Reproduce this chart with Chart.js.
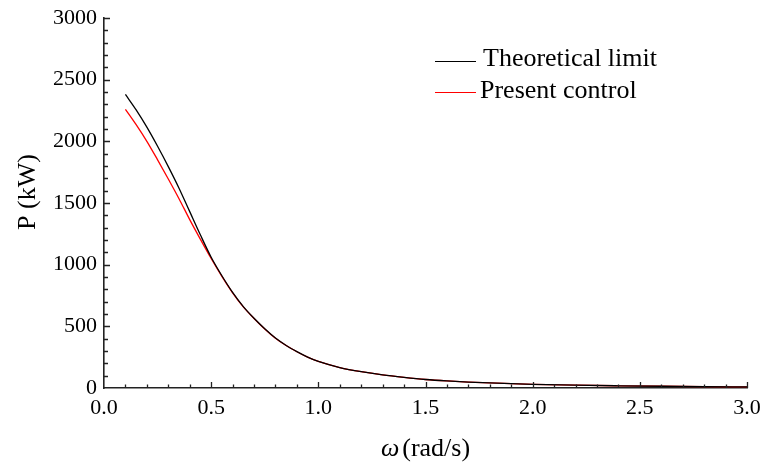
<!DOCTYPE html>
<html lang="en">
<head>
    <meta charset="UTF-8">
    <title>P vs omega</title>
    <script src="https://cdn.jsdelivr.net/npm/chart.js@4.4.0/dist/chart.umd.min.js"></script>
    <style>
        html,body{margin:0; padding:0; background:#fff;}
        div{width:762px; height:463px;}
    </style>
</head>
<body>
    <div>
        <canvas id="myChart" width="762" height="463"></canvas>
    </div>
    <script>
        // omega (rad/s)
        const omega = [0.10,0.15,0.20,0.25,0.30,0.35,0.40,0.45,0.50,0.55,0.60,0.65,0.70,0.75,0.80,0.85,0.90,0.95,1.00,
                       1.1,1.2,1.3,1.4,1.5,1.6,1.7,1.8,1.9,2.0,2.2,2.4,2.6,2.8,3.0]
        // P (kW)
        const theoretical = [2380,2255,2115,1960,1795,1620,1430,1240,1060,910,775,660,565,480,405,345,295,250,215,
                             166,132,106,86,69,57,48,41,35,30,23,18,14,11,9]
        const present = [2260,2135,2000,1850,1695,1535,1365,1205,1050,905,772,658,564,479,404,344,294,250,215,
                         166,132,106,86,69,57,48,41,35,30,23,18,14,11,9]
        const xTicks = [0,0.5,1.0,1.5,2.0,2.5,3.0]
        const yTicks = [0,500,1000,1500,2000,2500,3000]

        const serif = "'Liberation Serif','Times New Roman',serif"

        function pts(ys){
            return omega.map(function(x,i){ return {x:x, y:ys[i]} })
        }

        // inward ticks, titles and legend
        const decor = {
            id:'decor',
            afterDraw:function(chart){
                const c = chart.ctx
                const xs = chart.scales.x
                const ys = chart.scales.y
                const a = chart.chartArea
                c.save()
                c.strokeStyle = '#222'
                c.lineWidth = 1.3
                c.beginPath()
                for(let i=1;i<=30;i++){
                    const px = Math.round(xs.getPixelForValue(i/10))+0.5
                    const len = (i%5==0) ? 6 : 3.5
                    c.moveTo(px,a.bottom)
                    c.lineTo(px,a.bottom-len)
                }
                for(let i=1;i<=30;i++){
                    const py = Math.round(ys.getPixelForValue(i*100))+0.5
                    const len = (i%5==0) ? 6 : 4
                    c.moveTo(a.left,py)
                    c.lineTo(a.left+len,py)
                }
                c.stroke()

                // axis titles
                c.fillStyle = '#000'
                c.textBaseline = 'alphabetic'
                c.font = 'italic 26px ' + serif
                const w1 = c.measureText('\u03c9').width
                c.font = '26px ' + serif
                const w2 = c.measureText('(rad/s)').width
                const cx = (a.left+a.right)/2
                const x0 = cx - (w1+3+w2)/2
                c.textAlign = 'left'
                c.font = 'italic 26px ' + serif
                c.fillText('\u03c9',x0,456)
                c.font = '26px ' + serif
                c.fillText('(rad/s)',x0+w1+3,456)

                c.save()
                c.translate(35,192)
                c.rotate(-Math.PI/2)
                c.textAlign = 'center'
                c.fillText('P (kW)',0,0)
                c.restore()

                // legend
                const rows = [61.5,92.5]
                const base = [66,98]
                chart.data.datasets.forEach(function(ds,i){
                    c.strokeStyle = ds.borderColor
                    c.lineWidth = 1.2
                    c.beginPath()
                    c.moveTo(435,rows[i])
                    c.lineTo(476,rows[i])
                    c.stroke()
                    c.fillStyle = '#000'
                    c.textAlign = 'left'
                    c.font = '26px ' + serif
                    c.fillText(ds.label, i==0 ? 483 : 480, base[i])
                })
                c.restore()
            }
        }

        const ctx = document.getElementById('myChart').getContext('2d')
        const myChart = new Chart(ctx, {
            type:'line',
            data:{
                datasets:[{
                    label:'Theoretical limit',
                    data:pts(theoretical),
                    borderColor:'#000000',
                    borderWidth:1.3,
                    pointRadius:0,
                    cubicInterpolationMode:'monotone',
                    fill:false
                },{
                    label:'Present control',
                    data:pts(present),
                    borderColor:'#ff0000',
                    borderWidth:1.3,
                    pointRadius:0,
                    cubicInterpolationMode:'monotone',
                    fill:false
                }]
            },
            options:{
                responsive:false,
                animation:false,
                layout:{padding:{left:0,top:18,right:15,bottom:0}},
                plugins:{legend:{display:false},tooltip:{enabled:false}},
                scales:{
                    x:{
                        type:'linear',
                        min:0, max:3,
                        afterFit:function(s){ s.height = 75; s.paddingRight = 0; s.paddingLeft = 0 },
                        afterBuildTicks:function(s){ s.ticks = xTicks.map(function(v){ return {value:v} }) },
                        grid:{display:false, drawTicks:false},
                        border:{display:true, color:'#222', width:1.6},
                        ticks:{
                            padding:7,
                            color:'#000',
                            font:{family:serif, size:22},
                            maxRotation:0,
                            callback:function(v){ return Number(v).toFixed(1) }
                        }
                    },
                    y:{
                        type:'linear',
                        min:0, max:3000,
                        afterFit:function(s){ s.width = 104; s.paddingTop = 0; s.paddingBottom = 0 },
                        afterBuildTicks:function(s){ s.ticks = yTicks.map(function(v){ return {value:v} }) },
                        grid:{display:false, drawTicks:false},
                        border:{display:true, color:'#222', width:1.6},
                        ticks:{
                            padding:7,
                            color:'#000',
                            font:{family:serif, size:22},
                            callback:function(v){ return String(v) }
                        }
                    }
                }
            },
            plugins:[decor]
        })
    </script>
</body>
</html>
